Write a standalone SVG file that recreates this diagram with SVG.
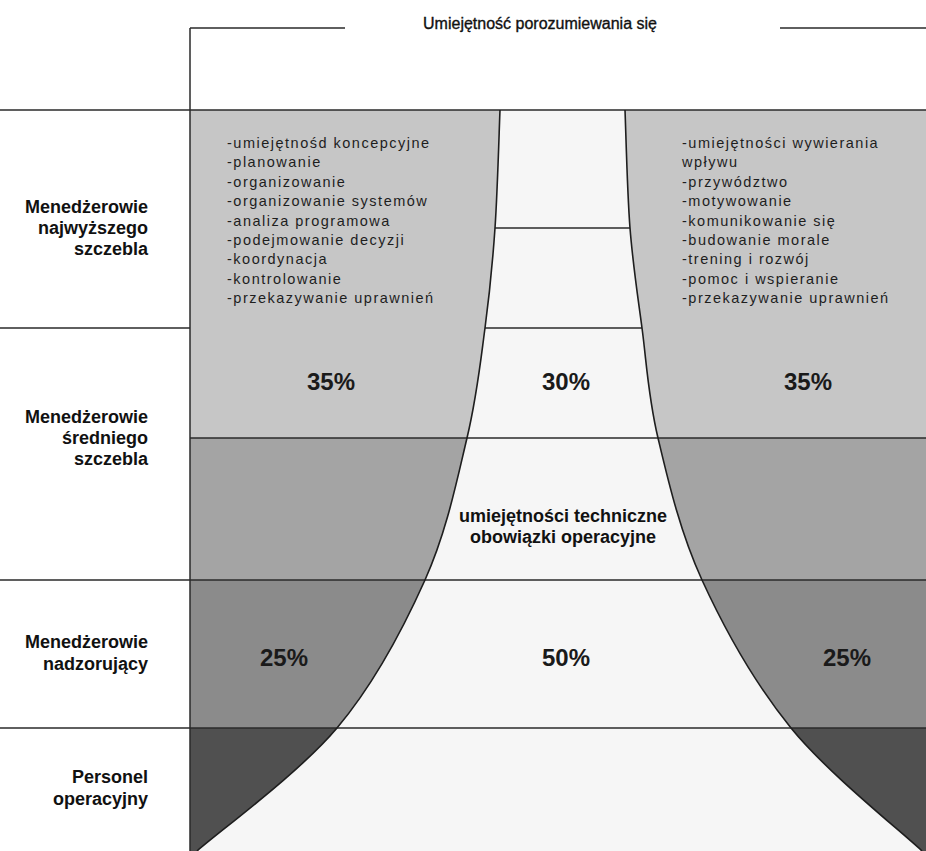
<svg xmlns="http://www.w3.org/2000/svg" width="926" height="851" viewBox="0 0 926 851">
<style>
  .ln { stroke: #2a2a2a; stroke-width: 1.5; fill: none; }
  .crv { stroke: #1e1e1e; stroke-width: 1.6; fill: none; }
  .lbl { font-family: "Liberation Sans", Arial, sans-serif; font-weight: bold; font-size: 18px; fill: #111; text-anchor: end; }
  .pct { font-family: "Liberation Sans", Arial, sans-serif; font-weight: bold; font-size: 24px; fill: #1a1a1a; text-anchor: middle; }
  .lst { font-family: "Liberation Sans", Arial, sans-serif; font-size: 14.5px; letter-spacing: 1.5px; fill: #1e1e1e; }
  .ctr { font-family: "Liberation Sans", Arial, sans-serif; font-weight: bold; font-size: 18px; fill: #111; text-anchor: middle; }
  .ttl { font-family: "Liberation Sans", Arial, sans-serif; font-size: 16px; fill: #111; stroke: #111; stroke-width: 0.35; text-anchor: middle; }
</style>
<rect x="0" y="0" width="926" height="851" fill="#ffffff"/>

<g id="bands">
  <rect x="190" y="110" width="736" height="328" fill="#c6c6c6"/>
  <rect x="190" y="438" width="736" height="142" fill="#a4a4a4"/>
  <rect x="190" y="580" width="736" height="148" fill="#8b8b8b"/>
  <rect x="190" y="728" width="736" height="123" fill="#505050"/>
</g>

<g id="center-area">
  <path d="M500,110 C499.17,129.67 497.5,191.67 495,228 C492.5,264.33 489.67,293 485,328 C480.33,363 477,396 467,438 C457,480 446.67,531.67 425,580 C403.33,628.33 375,682.83 337,728 C299,773.17 220.33,830.5 197,851 L922,851 C900.17,830.5 827.67,773.17 791,728 C754.33,682.83 724.17,628.33 702,580 C679.83,531.67 668,480 658,438 C648,396 646.67,363 642,328 C637.33,293 632.83,264.33 630,228 C627.17,191.67 625.83,129.67 625,110 Z" fill="#f6f6f6"/>
</g>

<g id="connectors">
  <line class="ln" x1="190" y1="28" x2="345" y2="28"/>
  <line class="ln" x1="780" y1="28" x2="926" y2="28"/>
  <line class="ln" x1="190" y1="28" x2="190" y2="851"/>
  <line class="ln" x1="0" y1="110" x2="926" y2="110"/>
  <line class="ln" x1="495" y1="228" x2="630" y2="228"/>
  <line class="ln" x1="0" y1="328" x2="190" y2="328"/>
  <line class="ln" x1="485" y1="328" x2="642" y2="328"/>
  <line class="ln" x1="190" y1="438" x2="926" y2="438"/>
  <line class="ln" x1="0" y1="580" x2="926" y2="580"/>
  <line class="ln" x1="0" y1="728" x2="926" y2="728"/>
  <path class="crv" d="M500,110 C499.17,129.67 497.5,191.67 495,228 C492.5,264.33 489.67,293 485,328 C480.33,363 477,396 467,438 C457,480 446.67,531.67 425,580 C403.33,628.33 375,682.83 337,728 C299,773.17 220.33,830.5 197,851"/>
  <path class="crv" d="M625,110 C625.83,129.67 627.17,191.67 630,228 C632.83,264.33 637.33,293 642,328 C646.67,363 648,396 658,438 C668,480 679.83,531.67 702,580 C724.17,628.33 754.33,682.83 791,728 C827.67,773.17 900.17,830.5 922,851"/>
</g>

<g id="title">
  <text class="ttl" x="540" y="29">Umiejętność porozumiewania się</text>
</g>

<g id="label-top">
  <text class="lbl" x="148" y="213">Menedżerowie</text>
  <text class="lbl" x="148" y="234">najwyższego</text>
  <text class="lbl" x="148" y="255">szczebla</text>
</g>
<g id="label-middle">
  <text class="lbl" x="148" y="423">Menedżerowie</text>
  <text class="lbl" x="148" y="444">średniego</text>
  <text class="lbl" x="148" y="465">szczebla</text>
</g>
<g id="label-supervisory">
  <text class="lbl" x="148" y="648">Menedżerowie</text>
  <text class="lbl" x="148" y="670">nadzorujący</text>
</g>
<g id="label-operational">
  <text class="lbl" x="148" y="783">Personel</text>
  <text class="lbl" x="148" y="805">operacyjny</text>
</g>

<g id="left-list">
  <text class="lst" x="227" y="148">-umiejętnośd koncepcyjne</text>
  <text class="lst" x="227" y="167.4">-planowanie</text>
  <text class="lst" x="227" y="186.8">-organizowanie</text>
  <text class="lst" x="227" y="206.2">-organizowanie systemów</text>
  <text class="lst" x="227" y="225.6">-analiza programowa</text>
  <text class="lst" x="227" y="245">-podejmowanie decyzji</text>
  <text class="lst" x="227" y="264.4">-koordynacja</text>
  <text class="lst" x="227" y="283.8">-kontrolowanie</text>
  <text class="lst" x="227" y="303.2">-przekazywanie uprawnień</text>
</g>

<g id="right-list">
  <text class="lst" x="682" y="148">-umiejętności wywierania</text>
  <text class="lst" x="682" y="167.4">wpływu</text>
  <text class="lst" x="682" y="186.8">-przywództwo</text>
  <text class="lst" x="682" y="206.2">-motywowanie</text>
  <text class="lst" x="682" y="225.6">-komunikowanie się</text>
  <text class="lst" x="682" y="245">-budowanie morale</text>
  <text class="lst" x="682" y="264.4">-trening i rozwój</text>
  <text class="lst" x="682" y="283.8">-pomoc i wspieranie</text>
  <text class="lst" x="682" y="303.2">-przekazywanie uprawnień</text>
</g>

<g id="percent-top">
  <text class="pct" x="331" y="390">35%</text>
  <text class="pct" x="566" y="390">30%</text>
  <text class="pct" x="808" y="390">35%</text>
</g>

<g id="center-text">
  <text class="ctr" x="563" y="522">umiejętności techniczne</text>
  <text class="ctr" x="563" y="543">obowiązki operacyjne</text>
</g>

<g id="percent-bottom">
  <text class="pct" x="284" y="666">25%</text>
  <text class="pct" x="566" y="666">50%</text>
  <text class="pct" x="847" y="666">25%</text>
</g>
</svg>
